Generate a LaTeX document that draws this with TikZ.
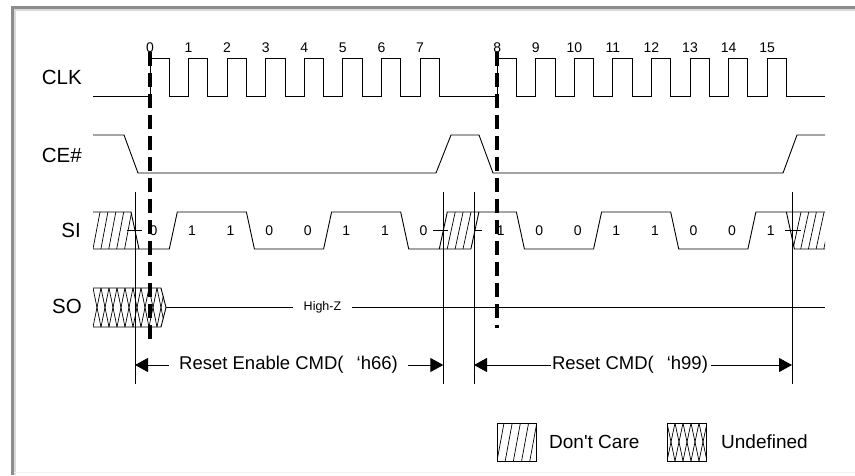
\documentclass[tikz,border=0pt]{standalone}
\usepackage{fontspec}
\setmainfont{Liberation Sans}
\usetikzlibrary{arrows.meta}
\begin{document}
\begin{tikzpicture}[x=1pt,y=-1pt,
  sig/.style={line width=0.9pt, line join=miter},
  vline/.style={line width=0.8pt},
  hat/.style={line width=0.7pt},
  lbl/.style={font=\fontsize{20.5}{24}\selectfont, anchor=east, inner sep=0pt},
  num/.style={font=\fontsize{14}{16}\selectfont, inner sep=0pt},
  bit/.style={font=\fontsize{14}{16}\selectfont, inner sep=0pt},
  cmd/.style={font=\fontsize{18.5}{22}\selectfont, inner sep=0pt},
  leg/.style={font=\fontsize{19}{22}\selectfont, anchor=west, inner sep=0pt},
  bigarrow/.style={line width=0.9pt, -{Triangle[length=13pt,width=14pt]}},
  marker/.style={line width=3.5pt, dash pattern=on 14pt off 7pt}
]
\useasboundingbox (0,0) rectangle (855,475);
\fill[white] (0,0) rectangle (855,475);
% frame
\draw[line width=3pt, black!45] (12.5,475) -- (12.5,7.5) -- (855,7.5);
\draw[line width=1.5pt, black!15] (14.75,475) -- (14.75,9.75) -- (855,9.75);
\draw[line width=1.5pt, black!6] (14,472.5) -- (855,472.5);

% signal names
\node[lbl] (clk) at (82,77) {CLK};
\node[lbl] (ce) at (82,155) {CE\#};
\node[lbl] (si) at (81,230.5) {SI};
\node[lbl] (so) at (82,306.5) {SO};

\def\rises{150,188.57,227.14,265.71,304.29,342.86,381.43,420,497.14,535.71,574.29,612.86,651.43,690,728.57,767.14}

% CLK
\draw[sig] (93,96) foreach \r in \rises { -- (\r,96) -- (\r,58) -- (\r+19.3,58) -- (\r+19.3,96) } -- (825,96);
\foreach \r [count=\k from 0] in \rises \node[num] (c\k) at (\r,47.5) {\k};

% CE#
\draw[sig] (93,135) -- (124,135) -- (138,173) -- (436,173) -- (451,135) -- (479,135)
  -- (493,173) -- (783,173) -- (797,135) -- (825,135);

% SI don't care regions
\begin{scope}
\clip (93,212) -- (131,212) -- (139,249) -- (93,249) -- cycle;
\foreach \i in {0,...,4} \draw[hat] (93+7.9*\i,249) -- (100+7.9*\i,212);
\end{scope}
\begin{scope}
\clip (439.3,249) -- (447.3,212) -- (478.9,212) -- (470.9,249) -- cycle;
\foreach \i in {1,...,3} \draw[hat] (439.3+7.9*\i,249) -- (447.3+7.9*\i,212);
\end{scope}
\begin{scope}
\clip (786.4,212) -- (825,212) -- (825,249) -- (794.4,249) -- cycle;
\foreach \i in {0,...,4} \draw[hat] (793+7.7*\i,249) -- (801+7.7*\i,212);
\end{scope}

% SI waveform
\draw[sig] (93,212) -- (131,212) -- (139,249);
\draw[sig] (93,249) -- (169.3,249) -- (177.3,212) -- (246.4,212) -- (254.4,249) -- (323.6,249)
  -- (331.6,212) -- (400.7,212) -- (408.7,249) -- (470.9,249);
\draw[sig] (439.3,249) -- (447.3,212) -- (516.4,212) -- (524.4,249) -- (593.6,249) -- (601.6,212)
  -- (670.7,212) -- (678.7,249) -- (747.9,249) -- (755.9,212) -- (825,212);
\draw[sig] (470.9,249) -- (478.9,212);
\draw[sig] (786.4,212) -- (794.4,249) -- (825,249);

\foreach \r/\v [count=\k from 0] in {150/0,188.57/1,227.14/1,265.71/0,304.29/0,342.86/1,381.43/1,420/0,
  497.14/1,535.71/0,574.29/0,612.86/1,651.43/1,690/0,728.57/0,767.14/1}
  \node[bit] (b\k) at (\r+3.5,230.5) {\v};

% mid-level ticks
\draw[vline] (127,230.5) -- (142,230.5);
\draw[vline] (433,230.5) -- (448,230.5);
\draw[vline] (474,230.5) -- (482,230.5);
\draw[vline] (785,230.5) -- (801,230.5);

% vertical boundary lines
\coordinate (va) at (135,192);
\coordinate (vb) at (443.3,192);
\coordinate (vc) at (474,192);
\coordinate (vd) at (792,192);
\foreach \n in {va,vb,vc,vd} \draw[vline] (\n) -- ++(0,192);

% SO undefined
\begin{scope}
\clip (93,288) -- (161,288) -- (166,307.5) -- (161,327) -- (93,327) -- cycle;
\foreach \i in {-1,...,9} {
  \draw[hat] (93+8*\i,288) -- (101+8*\i,327);
  \draw[hat] (101+8*\i,288) -- (93+8*\i,327);
}
\end{scope}
\draw[sig] (93,288) -- (161,288) -- (166,307.5) -- (161,327) -- (93,327);
\coordinate (soend) at (166,307.5);
\node[font=\fontsize{12.5}{14}\selectfont, inner sep=0pt] (hz) at (322.5,307.5) {High-Z};
\coordinate (sor) at (825,307.5);
\draw[sig] (soend) -- ([xshift=-11pt]hz.west);
\draw[sig] ([xshift=11pt]hz.east) -- (sor);

% command spans
\node[cmd] (re) at (288.5,365) {Reset Enable CMD(\hspace{13pt}‘h66)};
\draw[bigarrow] ([xshift=-10pt]re.west) -- (re.west -| va);
\draw[bigarrow] ([xshift=10pt]re.east) -- (re.east -| vb);
\node[cmd] (rc) at (630,365) {Reset CMD(\hspace{13pt}‘h99)};
\draw[bigarrow] ([xshift=-1pt]rc.west) -- (rc.west -| vc);
\draw[bigarrow] ([xshift=3pt]rc.east) -- (rc.east -| vd);

% legend
\begin{scope}
\clip (497,423) rectangle (536,461);
\foreach \i in {-1,...,5} \draw[hat] (497+8.2*\i,461) -- (504+8.2*\i,423);
\end{scope}
\draw[vline] (497,423) rectangle (536,461);
\node[leg] (dc) at (549,442) {Don\textquotesingle t Care};
\begin{scope}
\clip (667,423) rectangle (706,461);
\foreach \i in {-1,...,5} {
  \draw[hat] (667+8*\i,423) -- (675+8*\i,461);
  \draw[hat] (675+8*\i,423) -- (667+8*\i,461);
}
\end{scope}
\draw[vline] (667,423) rectangle (706,461);
\node[leg] (ud) at (721,442) {Undefined};

% dashed markers
\coordinate (m0t) at (150,52);
\coordinate (m0b) at (150,342);
\coordinate (m8t) at (497.14,52);
\coordinate (m8b) at (497.14,328);
\draw[marker] (m0t) -- (m0b);
\draw[marker] (m8t) -- (m8b);
\end{tikzpicture}
\end{document}
